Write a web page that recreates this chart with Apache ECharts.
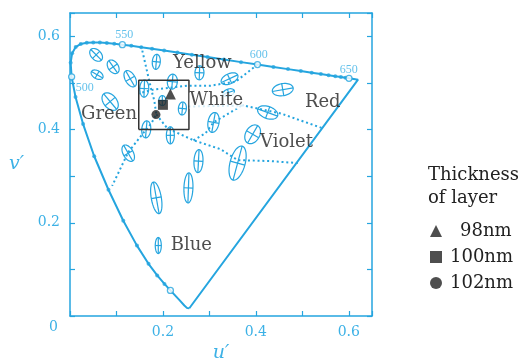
<!DOCTYPE html>
<html>
<head>
<meta charset="utf-8" />
<title>u'v' chromaticity</title>
<style>
  html, body { margin: 0; padding: 0; background: #fff; }
  #main { width: 524px; height: 358px; }
</style>
</head>
<body>
<div id="main"></div>
<script src="https://cdn.jsdelivr.net/npm/echarts@6/dist/echarts.min.js"></script>
<script type="text/javascript">
var BLUE = '#25a5df';
var LABEL_BLUE = '#3cb1e6';
var INK = '#222';

// spectral locus (nm, u', v')
var locusNm = [380, 420, 430, 440, 445, 450, 455, 460, 465, 470, 475, 480, 485, 490, 495, 500,
  505, 510, 515, 520, 525, 530, 535, 540, 545, 550, 555, 560, 565, 570, 575, 580, 585, 590,
  595, 600, 605, 610, 615, 620, 625, 630, 635, 640, 645, 650, 660, 680, 700];
var locusU = [0.2568, 0.2522, 0.2461, 0.2347, 0.2266, 0.2161, 0.2033, 0.1877, 0.1690, 0.1441,
  0.1147, 0.0828, 0.0521, 0.0282, 0.0119, 0.0035, 0.0014, 0.0046, 0.0123, 0.0231, 0.0360,
  0.0501, 0.0643, 0.0792, 0.0953, 0.1127, 0.1319, 0.1531, 0.1766, 0.2026, 0.2312, 0.2623,
  0.2960, 0.3315, 0.3681, 0.4035, 0.4379, 0.4692, 0.4968, 0.5203, 0.5399, 0.5565, 0.5709,
  0.5830, 0.5929, 0.6005, 0.6109, 0.6199, 0.6234];
var locusV = [0.0166, 0.0169, 0.0226, 0.0350, 0.0437, 0.0549, 0.0688, 0.0871, 0.1120, 0.1510,
  0.2044, 0.2708, 0.3427, 0.4117, 0.4698, 0.5131, 0.5431, 0.5638, 0.5770, 0.5837, 0.5861,
  0.5868, 0.5865, 0.5856, 0.5841, 0.5821, 0.5796, 0.5766, 0.5732, 0.5694, 0.5651, 0.5604,
  0.5554, 0.5501, 0.5446, 0.5393, 0.5342, 0.5296, 0.5254, 0.5219, 0.5190, 0.5165, 0.5143,
  0.5125, 0.5111, 0.5099, 0.5084, 0.5070, 0.5065];

// wavelength captions
var nmLabels = ['500', '550', '600', '650'];
var nmLabelU = [0.032, 0.117, 0.406, 0.600];
var nmLabelV = [0.490, 0.604, 0.561, 0.528];

// MacAdam-type ellipses: centre u', v', semi-axes, angle of major axis (deg)
var ellU = [0.0562, 0.0929, 0.0583, 0.1296, 0.0864, 0.1857, 0.1598, 0.2203, 0.2786, 0.3434,
  0.1987, 0.2419, 0.3089, 0.3413, 0.4579, 0.4255, 0.3931, 0.3607, 0.2765, 0.2549, 0.1857,
  0.1253, 0.1641, 0.2160, 0.1900];
var ellV = [0.5602, 0.5346, 0.5176, 0.5090, 0.4600, 0.5453, 0.4878, 0.5027, 0.5218, 0.5090,
  0.4622, 0.4452, 0.4153, 0.4792, 0.4856, 0.4366, 0.3898, 0.3280, 0.3323, 0.2748, 0.2535,
  0.3493, 0.4004, 0.3876, 0.1512];
var ellA = [0.0162, 0.0162, 0.0140, 0.0194, 0.0216, 0.0162, 0.0184, 0.0162, 0.0151, 0.0194,
  0.0108, 0.0140, 0.0216, 0.0130, 0.0227, 0.0227, 0.0216, 0.0378, 0.0248, 0.0324, 0.0346,
  0.0194, 0.0184, 0.0184, 0.0173];
var ellB = [0.0108, 0.0108, 0.0086, 0.0108, 0.0140, 0.0086, 0.0097, 0.0108, 0.0097, 0.0108,
  0.0076, 0.0086, 0.0119, 0.0076, 0.0130, 0.0130, 0.0151, 0.0162, 0.0097, 0.0097, 0.0108,
  0.0108, 0.0097, 0.0086, 0.0065];
var ellAngle = [-45, -55, -30, -60, -50, 85, 88, 85, 88, 25, 90, 85, 80, 20, 10, -20, 60, 75,
  87, 88, 100, 120, 85, 90, 90];

// dotted colour-name boundaries
var lineGreen = [[0.1533, 0.5793], [0.1685, 0.5133], [0.1750, 0.4856], [0.1814, 0.4622],
  [0.1857, 0.4324], [0.1750, 0.4132], [0.1641, 0.4004], [0.1253, 0.3514], [0.0907, 0.2790]];
var lineYellow = [[0.4035, 0.5393], [0.3564, 0.5027], [0.3024, 0.4941], [0.2527, 0.4941],
  [0.1793, 0.4856], [0.1469, 0.4771]];
var lineRed = [[0.2549, 0.4494], [0.3737, 0.4516], [0.4536, 0.4345], [0.5443, 0.4026]];
var lineUp = [[0.2657, 0.3770], [0.2916, 0.3919], [0.3089, 0.4153], [0.3737, 0.4537]];
var lineViolet = [[0.1857, 0.4324], [0.2095, 0.4026], [0.2376, 0.3898], [0.2657, 0.3770],
  [0.3240, 0.3578], [0.3607, 0.3344], [0.4320, 0.3323], [0.4903, 0.3280]];

// colour region names (knockout = label hides the lines beneath it)
var regionNames = ['Yellow', 'White', 'Green', 'Red', 'Violet', 'Blue'];
var regionU = [0.285, 0.315, 0.084, 0.544, 0.466, 0.261];
var regionV = [0.541, 0.462, 0.432, 0.458, 0.373, 0.151];
var regionKnockout = [false, true, false, false, false, false];

// measured white points for layer thickness
var sampleNames = ['98nm', '100nm', '102nm'];
var sampleU = [0.216, 0.200, 0.185];
var sampleV = [0.476, 0.453, 0.432];

// highlighted region
var boxU = [0.148, 0.256];
var boxV = [0.400, 0.506];

var chart = echarts.init(document.getElementById('main'));

var locusData = locusNm.map(function (nm, i) { return [locusU[i], locusV[i]]; });
locusData.push([locusU[0], locusV[0]]);
var dotData = [], ringData = [];
locusNm.forEach(function (nm, i) {
  if (nm < 450 || nm > 650) return;
  if (nm % 50 === 0) ringData.push([locusU[i], locusV[i]]);
  else dotData.push([locusU[i], locusV[i]]);
});

function dotted(data) {
  return {
    type: 'line', data: data, symbol: 'none', silent: true, z: 3,
    lineStyle: { color: BLUE, width: 2, type: [2, 2.8] }
  };
}

function renderEllipse(params, api) {
  var c = api.coord([api.value(0), api.value(1)]);
  var a = api.size([api.value(2), 0])[0];
  var b = api.size([api.value(3), 0])[0];
  var t = api.value(4) * Math.PI / 180;
  var d1 = [Math.cos(t), -Math.sin(t)];
  var d2 = [Math.sin(t), Math.cos(t)];
  var pts = [];
  for (var i = 0; i < 48; i++) {
    var s = i / 48 * Math.PI * 2;
    var ea = a * Math.cos(s), eb = b * Math.sin(s);
    pts.push([c[0] + ea * d1[0] + eb * d2[0], c[1] + ea * d1[1] + eb * d2[1]]);
  }
  var st = { stroke: BLUE, lineWidth: 1.2, fill: null };
  return {
    type: 'group',
    children: [
      { type: 'polygon', shape: { points: pts }, style: st },
      { type: 'line', shape: { x1: c[0] - a * d1[0], y1: c[1] - a * d1[1], x2: c[0] + a * d1[0], y2: c[1] + a * d1[1] }, style: st },
      { type: 'line', shape: { x1: c[0] - b * d2[0], y1: c[1] - b * d2[1], x2: c[0] + b * d2[0], y2: c[1] + b * d2[1] }, style: st }
    ]
  };
}

function tickLabel(v) {
  var r = Math.round(v * 10);
  if (r > 0 && r % 2 === 0 && Math.abs(v * 10 - r) < 1e-6) return v.toFixed(1);
  return '';
}

var axisLine = { onZero: false, lineStyle: { color: BLUE, width: 1.5 } };
var axisTick = { inside: true, length: 5, lineStyle: { color: BLUE, width: 1.2 } };
var labelFont = { color: LABEL_BLUE, fontFamily: 'DejaVu Serif', fontSize: 14 };
var nameFont = { color: LABEL_BLUE, fontFamily: 'DejaVu Serif', fontSize: 19, fontStyle: 'italic' };

var option = {
  animation: false,
  grid: { left: 70, right: 152, top: 13, bottom: 42, containLabel: false, outerBoundsMode: 'none' },
  title: {
    text: 'Thickness\nof layer', left: 428, top: 164, padding: 0,
    textStyle: { fontFamily: 'DejaVu Serif', fontSize: 18, fontWeight: 'normal', color: INK, lineHeight: 23 }
  },
  legend: {
    orient: 'vertical', left: 430, top: 222, padding: 0, itemWidth: 12, itemHeight: 12, itemGap: 8,
    data: [{ name: '98nm', icon: 'triangle' }, { name: '100nm', icon: 'rect' }, { name: '102nm', icon: 'circle' }],
    formatter: function (name) { return (name.length < 5 ? '{w|}' : '{n|}') + name; },
    textStyle: {
      fontFamily: 'DejaVu Serif', fontSize: 18, color: INK, lineHeight: 18,
      rich: { w: { width: 13 }, n: { width: 3 } }
    }
  },
  graphic: [
    { type: 'text', left: 49, top: 320, style: { text: '0', font: '14px "DejaVu Serif"', fill: LABEL_BLUE } }
  ],
  xAxis: [
    {
      type: 'value', min: 0, max: 0.65, interval: 0.1, position: 'bottom',
      axisLine: axisLine, axisTick: axisTick, splitLine: { show: false },
      axisLabel: Object.assign({ formatter: tickLabel, margin: 9 }, labelFont),
      name: 'u\u2032', nameLocation: 'middle', nameGap: 26, nameTextStyle: nameFont
    },
    {
      type: 'value', min: 0, max: 0.65, interval: 0.1, position: 'top',
      axisLine: axisLine, axisTick: axisTick, splitLine: { show: false }, axisLabel: { show: false }
    }
  ],
  yAxis: [
    {
      type: 'value', min: 0, max: 0.65, interval: 0.1, position: 'left',
      axisLine: axisLine, axisTick: axisTick, splitLine: { show: false },
      axisLabel: Object.assign({ formatter: tickLabel, margin: 10 }, labelFont),
      name: 'v\u2032', nameLocation: 'middle', nameGap: 46, nameRotate: 0, nameTextStyle: nameFont
    },
    {
      type: 'value', min: 0, max: 0.65, interval: 0.1, position: 'right',
      axisLine: axisLine, axisTick: axisTick, splitLine: { show: false }, axisLabel: { show: false }
    }
  ],
  series: [
    dotted(lineGreen), dotted(lineYellow), dotted(lineRed), dotted(lineUp), dotted(lineViolet),
    {
      type: 'line', data: locusData, symbol: 'none', silent: true, z: 4,
      lineStyle: { color: BLUE, width: 2 }
    },
    {
      type: 'scatter', data: dotData, symbol: 'circle', symbolSize: 4, silent: true, z: 5,
      itemStyle: { color: BLUE }
    },
    {
      type: 'scatter', data: ringData, symbol: 'circle', symbolSize: 6, silent: true, z: 5,
      itemStyle: { color: '#fff', borderColor: BLUE, borderWidth: 1.3 }
    },
    {
      type: 'scatter', silent: true, symbolSize: 1, z: 6,
      data: nmLabels.map(function (t, i) { return { name: t, value: [nmLabelU[i], nmLabelV[i]] }; }),
      itemStyle: { color: 'rgba(0,0,0,0)' },
      label: { show: true, position: 'inside', formatter: '{b}', color: LABEL_BLUE, fontFamily: 'Liberation Serif', fontSize: 12 }
    },
    {
      type: 'custom', renderItem: renderEllipse, silent: true, z: 4,
      data: ellU.map(function (u, i) { return [u, ellV[i], ellA[i], ellB[i], ellAngle[i]]; })
    },
    {
      type: 'line', data: [[boxU[0], boxV[0]], [boxU[1], boxV[0]], [boxU[1], boxV[1]], [boxU[0], boxV[1]], [boxU[0], boxV[0]]],
      symbol: 'none', silent: true, z: 7, lineStyle: { color: '#333', width: 1.5 }
    },
    {
      type: 'scatter', silent: true, symbolSize: 1, z: 8,
      data: regionNames.map(function (t, i) {
        var item = { name: t, value: [regionU[i], regionV[i]] };
        if (regionKnockout[i]) item.label = { backgroundColor: '#fff', lineHeight: 16 };
        return item;
      }),
      itemStyle: { color: 'rgba(0,0,0,0)' },
      label: { show: true, position: 'inside', formatter: '{b}', color: INK, fontFamily: 'DejaVu Serif', fontSize: 18 }
    },
    { name: sampleNames[0], type: 'scatter', symbol: 'triangle', symbolSize: 11, z: 9, itemStyle: { color: INK }, data: [[sampleU[0], sampleV[0]]] },
    { name: sampleNames[1], type: 'scatter', symbol: 'rect', symbolSize: 10, z: 9, itemStyle: { color: INK }, data: [[sampleU[1], sampleV[1]]] },
    { name: sampleNames[2], type: 'scatter', symbol: 'circle', symbolSize: 9, z: 9, itemStyle: { color: INK }, data: [[sampleU[2], sampleV[2]]] }
  ]
};

chart.setOption(option);
</script>
</body>
</html>
